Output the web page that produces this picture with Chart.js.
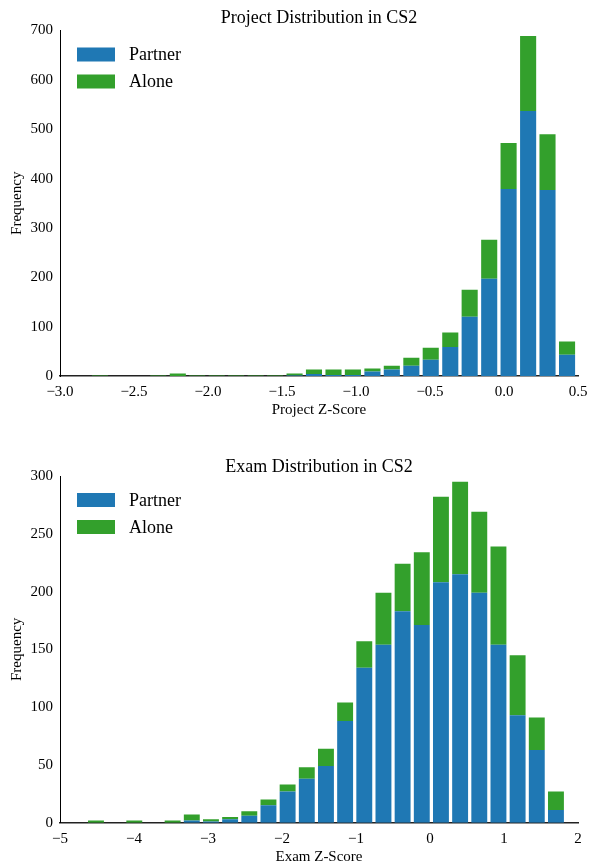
<!DOCTYPE html>
<html>
<head>
<meta charset="utf-8">
<script src="https://cdn.jsdelivr.net/npm/chart.js@4.4.1/dist/chart.umd.min.js"></script>
<style>
  html, body { margin: 0; padding: 0; background: #fff; }
  .panel { position: absolute; left: 0; width: 590px; }
  #top { top: 0; height: 435px; }
  #bottom { top: 435px; height: 430px; }
</style>
</head>
<body>
<div class="panel" id="top"><canvas id="projectChart"></canvas></div>
<div class="panel" id="bottom"><canvas id="examChart"></canvas></div>
<script>
// ---- data (bin centers + counts per bin) ----
const projectBins = [-2.730, -2.599, -2.467, -2.336, -2.204, -2.073, -1.941, -1.810, -1.678, -1.547,
  -1.415, -1.284, -1.152, -1.021, -0.889, -0.758, -0.626, -0.495, -0.363, -0.232,
  -0.100, 0.031, 0.163, 0.294, 0.426];
const projectPartner = [0, 0, 0, 0, 0, 0, 0, 0, 0, 0, 1, 4, 2, 2, 9, 13, 21, 33, 59, 120, 197, 379, 537, 377, 43];
const projectAlone = [1, 0, 0, 1, 5, 1, 1, 1, 1, 1, 4, 9, 11, 11, 6, 8, 16, 24, 29, 55, 79, 93, 152, 113, 27];

const examBins = [-4.514, -4.255, -3.996, -3.737, -3.478, -3.219, -2.960, -2.701, -2.442, -2.183,
  -1.924, -1.665, -1.406, -1.147, -0.888, -0.629, -0.370, -0.111, 0.148, 0.407,
  0.666, 0.925, 1.184, 1.443, 1.702];
const examPartner = [0, 0, 0, 0, 0, 2, 1, 3, 6, 15, 27, 38, 49, 88, 134, 154, 183, 171, 208, 215, 199, 154, 93, 63, 11];
const examAlone = [2, 0, 2, 0, 2, 5, 2, 2, 4, 5, 6, 10, 15, 16, 23, 45, 41, 63, 74, 80, 70, 85, 52, 28, 16];

const seriesLabels = ['Partner', 'Alone'];
const projectXTicks = [-3.0, -2.5, -2.0, -1.5, -1.0, -0.5, 0.0, 0.5];
const projectYTicks = [0, 100, 200, 300, 400, 500, 600, 700];
const examXTicks = [-5, -4, -3, -2, -1, 0, 1, 2];
const examYTicks = [0, 50, 100, 150, 200, 250, 300];

const BLUE = '#1f78b4';
const GREEN = '#33a02c';
const FONT = "'Liberation Serif', 'Times New Roman', serif";

Chart.defaults.font.family = FONT;
Chart.defaults.color = '#000';

const minus = s => s.replace('-', '\u2212');

// legend drawn in the upper-left corner of the plot, like matplotlib's
const cornerLegend = {
  id: 'cornerLegend',
  afterDraw(chart) {
    const {ctx, chartArea} = chart;
    ctx.save();
    ctx.font = '18px ' + FONT;
    ctx.textBaseline = 'middle';
    chart.data.datasets.forEach((ds, i) => {
      const cy = chartArea.top + 24 + i * 27;
      ctx.fillStyle = ds.backgroundColor;
      ctx.fillRect(chartArea.left + 17, cy - 7, 38, 14);
      ctx.fillStyle = '#000';
      ctx.fillText(ds.label, chartArea.left + 69, cy + 1);
    });
    ctx.restore();
  }
};

function histChart(id, cfg) {
  const points = vals => cfg.bins.map((x, i) => ({x: x, y: vals[i]}));
  return new Chart(document.getElementById(id), {
    type: 'bar',
    data: {
      datasets: [
        {label: seriesLabels[0], data: points(cfg.partner), backgroundColor: BLUE},
        {label: seriesLabels[1], data: points(cfg.alone), backgroundColor: GREEN}
      ]
    },
    options: {
      responsive: true,
      maintainAspectRatio: false,
      animation: false,
      barPercentage: 0.83,
      categoryPercentage: 1.0,
      layout: {padding: {left: 0, right: 12, top: 0, bottom: cfg.padBottom}},
      plugins: {
        legend: {display: false},
        tooltip: {enabled: false},
        title: {
          display: true,
          fullSize: false,
          text: cfg.title,
          font: {size: 18, lineHeight: 1.0, weight: 'normal'},
          color: '#000',
          padding: cfg.titlePad
        }
      },
      scales: {
        x: {
          type: 'linear',
          stacked: true,
          offset: false,
          min: cfg.xTicks[0],
          max: cfg.xTicks[cfg.xTicks.length - 1],
          afterBuildTicks: s => { s.ticks = cfg.xTicks.map(v => ({value: v})); },
          afterFit: s => {
            s.height = cfg.xHeight;
            // let the end labels hang past the plot edges
            s.paddingLeft = 0;
            s.paddingRight = 0;
          },
          grid: {display: false, drawTicks: false},
          border: {display: true, color: '#222', width: 1.5},
          ticks: {
            font: {size: 15},
            padding: 7,
            autoSkip: false,
            maxRotation: 0,
            callback: v => minus(cfg.xFmt(v))
          },
          title: {
            display: true,
            text: cfg.xLabel,
            font: {size: 15, lineHeight: 1.0},
            padding: {top: 0, bottom: 0}
          }
        },
        y: {
          stacked: true,
          min: 0,
          max: cfg.yTicks[cfg.yTicks.length - 1],
          afterBuildTicks: s => { s.ticks = cfg.yTicks.map(v => ({value: v})); },
          afterFit: s => { s.width = 60; },
          grid: {display: false, drawTicks: false},
          border: {display: true, color: '#000', width: 1},
          ticks: {font: {size: 15}, padding: 7},
          title: {
            display: true,
            text: 'Frequency',
            font: {size: 15, lineHeight: 1.0},
            padding: {top: 10, bottom: 0}
          }
        }
      }
    },
    plugins: [cornerLegend]
  });
}

histChart('projectChart', {
  title: 'Project Distribution in CS2',
  xLabel: 'Project Z-Score',
  bins: projectBins, partner: projectPartner, alone: projectAlone,
  xTicks: projectXTicks, yTicks: projectYTicks,
  xFmt: v => v.toFixed(1),
  titlePad: {top: 9, bottom: 3.5},
  xHeight: 41.5,
  padBottom: 17.5
});

histChart('examChart', {
  title: 'Exam Distribution in CS2',
  xLabel: 'Exam Z-Score',
  bins: examBins, partner: examPartner, alone: examAlone,
  xTicks: examXTicks, yTicks: examYTicks,
  xFmt: v => String(v),
  titlePad: {top: 23, bottom: 0},
  xHeight: 42.3,
  padBottom: 0
});
</script>
</body>
</html>
